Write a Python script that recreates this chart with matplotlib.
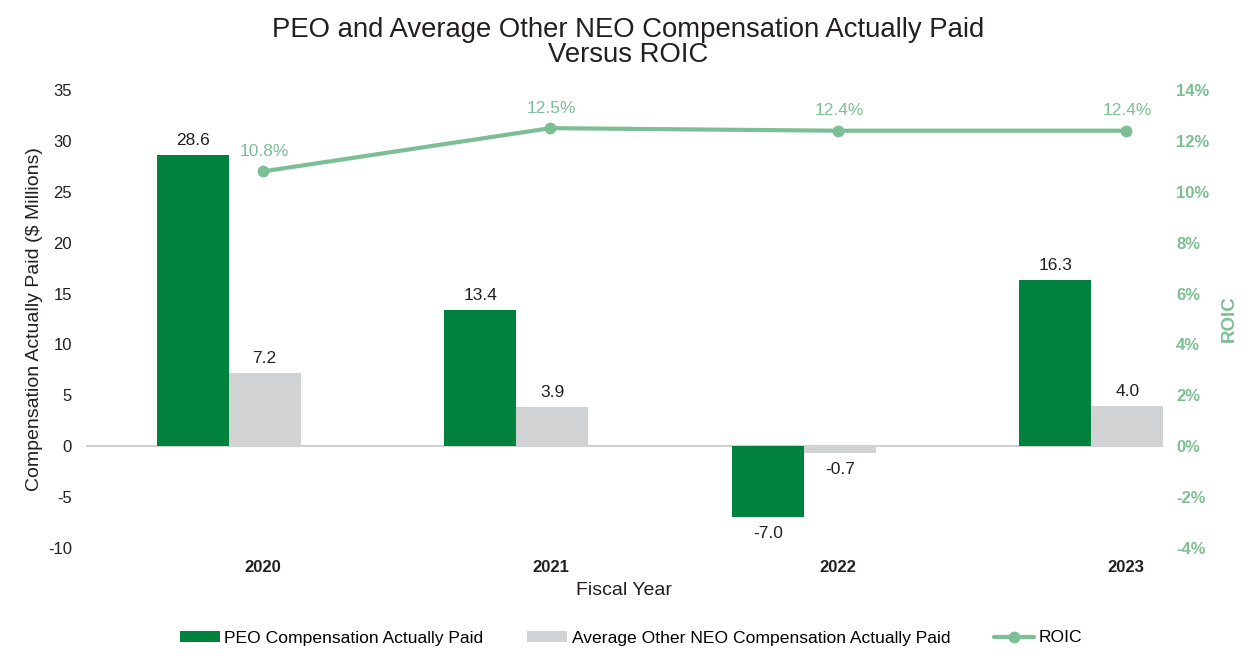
import matplotlib.pyplot as plt
import numpy as np

plt.rcParams['font.family'] = ['Liberation Sans', 'DejaVu Sans']
plt.rcParams['axes.unicode_minus'] = False

# Values
years = ['2020', '2021', '2022', '2023']
peo_cap = [28.6, 13.4, -7.0, 16.3]
neo_cap = [7.2, 3.9, -0.7, 4.0]
roic = [10.8, 12.5, 12.4, 12.4]

green = '#00823F'
grey = '#D1D2D4'
light_green = '#7DBF94'
text_col = '#231F20'

x = np.arange(len(years))
width = 0.25

fig = plt.figure(figsize=(12.57, 6.61), dpi=100)
W, H = 1257, 661
ax = fig.add_axes([86 / W, (H - 548) / H, (1163 - 86) / W, (548 - 90) / H])

bars1 = ax.bar(x - width + 0.006, peo_cap, width, color=green,
               label='PEO Compensation Actually Paid')
bars2 = ax.bar(x + 0.006, neo_cap, width, color=grey,
               label='Average Other NEO Compensation Actually Paid')

ax.set_xlim(-0.615, 3.13)
ax.set_ylim(-10, 35)
ax.set_yticks(np.arange(-10, 36, 5))
ax.axhline(0, color='#D0D0D0', lw=1.5, zorder=0)
for s in ax.spines.values():
    s.set_visible(False)
ax.tick_params(axis='both', length=0, labelsize=12, colors=text_col)
ax.tick_params(axis='y', pad=10)
ax.tick_params(axis='x', pad=9)
ax.set_xticks(x)
ax.set_xticklabels(years, fontweight='bold')
ax.set_xlabel('Fiscal Year', fontsize=14, color=text_col, labelpad=5)
ax.set_ylabel('Compensation Actually Paid ($ Millions)', fontsize=14,
              color=text_col, labelpad=4)


def label_bars(rects):
    for rect in rects:
        h = rect.get_height()
        off = 5 if h >= 0 else -6
        ax.annotate('{:.1f}'.format(h),
                    xy=(rect.get_x() + rect.get_width() / 2, h),
                    xytext=(0, off), textcoords='offset points',
                    ha='center', va='bottom' if h >= 0 else 'top',
                    fontsize=12.5, color=text_col)


label_bars(bars1)
label_bars(bars2)

ax2 = ax.twinx()
ax2.set_position(ax.get_position())
line, = ax2.plot(x, roic, color=light_green, lw=3, marker='o', markersize=7.5,
                 label='ROIC', solid_capstyle='round')
ax2.set_ylim(-4, 14)
ax2.set_yticks(np.arange(-4, 15, 2))
ax2.set_yticklabels(['{}%'.format(v) for v in range(-4, 15, 2)],
                    fontweight='bold')
for s in ax2.spines.values():
    s.set_visible(False)
ax2.tick_params(axis='y', length=0, labelsize=12, colors=light_green, pad=9.5)
ax2.set_ylabel('ROIC', fontsize=13.5, color=light_green, fontweight='bold',
               labelpad=8)
for xi, v in zip(x, roic):
    ax2.annotate('{:.1f}%'.format(v), xy=(xi, v), xytext=(1, 9),
                 textcoords='offset points', ha='center', va='bottom',
                 fontsize=12.5, color=light_green)

fig.suptitle('PEO and Average Other NEO Compensation Actually Paid\nVersus ROIC',
             fontsize=19.8, color=text_col, y=0.975, linespacing=0.95)

handles = [bars1, bars2, line]
labels = [h.get_label() for h in handles]
fig.legend(handles, labels, loc='center', bbox_to_anchor=(0.502, (H - 638) / H),
           ncol=3, frameon=False, fontsize=12.6, handlelength=2.3,
           handleheight=0.55, handletextpad=0.25, columnspacing=2.5)

fig.savefig('out.png', dpi=100)
